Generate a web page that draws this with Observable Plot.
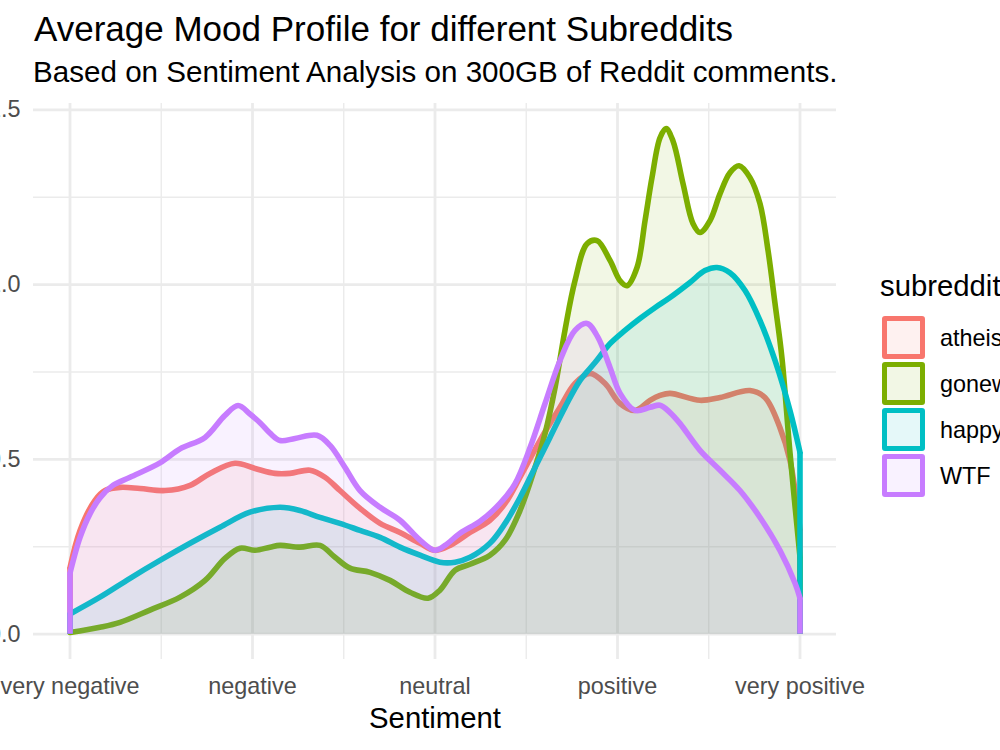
<!DOCTYPE html>
<html>
<head>
<meta charset="utf-8">
<script src="https://cdn.jsdelivr.net/npm/d3@7"></script>
<script src="https://cdn.jsdelivr.net/npm/@observablehq/plot@0.6"></script>
<style>
  html, body { margin: 0; padding: 0; background: #fff; }
  #chart { position: relative; width: 1000px; height: 750px; overflow: hidden;
           font-family: "Liberation Sans", Arial, sans-serif; }
  .title { position: absolute; left: 34px; top: 11px; font-size: 35px; line-height: 1; color: #000; white-space: nowrap; }
  .subtitle { position: absolute; left: 33px; top: 57px; font-size: 29.6px; line-height: 1; color: #000; white-space: nowrap; }
  #plot { position: absolute; left: 0; top: 95px; }
  .legend-title { position: absolute; left: 880px; top: 271px; font-size: 29.3px; line-height: 1; color: #000; white-space: nowrap; }
  .key { position: absolute; left: 882px; width: 43px; height: 43px; box-sizing: border-box; border-style: solid; border-width: 5.5px; border-radius: 3px; }
  .key-label { position: absolute; left: 940px; font-size: 23.4px; line-height: 1; color: #000; white-space: nowrap; }
</style>
</head>
<body>
<div id="chart">
  <div class="title">Average Mood Profile for different Subreddits</div>
  <div class="subtitle">Based on Sentiment Analysis on 300GB of Reddit comments.</div>
  <div id="plot"></div>
  <div class="legend-title">subreddit</div>
</div>
<script>
// Sentiment categories on a numeric scale (very negative = -2 ... very positive = 2)
const sentimentTicks = [-2, -1, 0, 1, 2];
const sentimentLabels = ["very negative", "negative", "neutral", "positive", "very positive"];
const densityTicks = [0, 0.5, 1.0, 1.5];
const subreddits = ["atheism", "gonewild", "happy", "WTF"];

// Smoothed density profiles: [sentiment score, density]
const atheism = [
  [-2.000, 0.190], [-1.945, 0.297], [-1.863, 0.383], [-1.808, 0.411], [-1.726, 0.420],
  [-1.616, 0.417], [-1.479, 0.411], [-1.342, 0.426], [-1.233, 0.460], [-1.096, 0.489],
  [-0.986, 0.474], [-0.877, 0.460], [-0.795, 0.460], [-0.685, 0.469], [-0.603, 0.449],
  [-0.521, 0.411], [-0.411, 0.360], [-0.301, 0.317], [-0.192, 0.291], [-0.082, 0.260],
  [0.000, 0.240], [0.082, 0.254], [0.192, 0.291], [0.301, 0.326], [0.384, 0.374],
  [0.466, 0.449], [0.575, 0.554], [0.685, 0.649], [0.767, 0.717], [0.849, 0.746],
  [0.932, 0.717], [1.014, 0.660], [1.096, 0.640], [1.178, 0.669], [1.233, 0.683],
  [1.288, 0.689], [1.452, 0.669], [1.562, 0.677], [1.726, 0.697], [1.808, 0.677],
  [1.890, 0.591], [1.945, 0.497], [2.000, 0.300]
];
const gonewild = [
  [-2.000, 0.005], [-1.836, 0.020], [-1.726, 0.034], [-1.562, 0.069], [-1.397, 0.106],
  [-1.260, 0.154], [-1.151, 0.217], [-1.068, 0.246], [-0.986, 0.240], [-0.904, 0.249],
  [-0.849, 0.254], [-0.740, 0.249], [-0.630, 0.254], [-0.548, 0.220], [-0.466, 0.189],
  [-0.356, 0.177], [-0.247, 0.154], [-0.137, 0.120], [-0.038, 0.103], [0.027, 0.126],
  [0.110, 0.183], [0.192, 0.200], [0.301, 0.226], [0.384, 0.269], [0.466, 0.354],
  [0.548, 0.477], [0.603, 0.574], [0.658, 0.706], [0.712, 0.869], [0.767, 1.011],
  [0.833, 1.117], [0.888, 1.126], [0.959, 1.069], [1.014, 1.011], [1.052, 0.997],
  [1.107, 1.049], [1.151, 1.183], [1.189, 1.306], [1.233, 1.420], [1.266, 1.446],
  [1.304, 1.411], [1.359, 1.289], [1.414, 1.174], [1.452, 1.149], [1.507, 1.183],
  [1.562, 1.260], [1.616, 1.320], [1.666, 1.340], [1.726, 1.306], [1.781, 1.231],
  [1.825, 1.097], [1.863, 0.946], [1.901, 0.791], [1.945, 0.520], [2.000, 0.220]
];
const happy = [
  [-2.000, 0.058], [-1.836, 0.106], [-1.671, 0.160], [-1.507, 0.211], [-1.342, 0.260],
  [-1.178, 0.306], [-1.014, 0.349], [-0.849, 0.363], [-0.740, 0.354], [-0.630, 0.334],
  [-0.521, 0.317], [-0.411, 0.297], [-0.301, 0.277], [-0.192, 0.249], [-0.082, 0.226],
  [0.027, 0.206], [0.110, 0.206], [0.192, 0.220], [0.301, 0.260], [0.384, 0.317],
  [0.466, 0.391], [0.548, 0.477], [0.630, 0.563], [0.712, 0.649], [0.795, 0.726],
  [0.877, 0.777], [0.959, 0.831], [1.041, 0.869], [1.123, 0.903], [1.205, 0.934],
  [1.288, 0.963], [1.397, 1.006], [1.479, 1.040], [1.545, 1.049], [1.616, 1.034],
  [1.699, 0.983], [1.781, 0.897], [1.863, 0.783], [1.945, 0.640], [2.000, 0.520]
];
const wtf = [
  [-2.000, 0.175], [-1.945, 0.277], [-1.890, 0.345], [-1.836, 0.390], [-1.764, 0.426],
  [-1.671, 0.449], [-1.507, 0.490], [-1.397, 0.530], [-1.260, 0.563], [-1.151, 0.626],
  [-1.079, 0.654], [-1.014, 0.630], [-0.959, 0.605], [-0.904, 0.575], [-0.849, 0.554],
  [-0.767, 0.560], [-0.647, 0.569], [-0.575, 0.540], [-0.493, 0.477], [-0.411, 0.411],
  [-0.301, 0.363], [-0.192, 0.326], [-0.082, 0.269], [0.000, 0.240], [0.055, 0.254],
  [0.137, 0.289], [0.247, 0.323], [0.356, 0.374], [0.438, 0.430], [0.521, 0.534],
  [0.603, 0.660], [0.685, 0.783], [0.767, 0.869], [0.833, 0.889], [0.893, 0.849],
  [0.959, 0.763], [1.014, 0.689], [1.096, 0.640], [1.178, 0.649], [1.233, 0.655],
  [1.288, 0.634], [1.342, 0.603], [1.452, 0.526], [1.562, 0.469], [1.671, 0.411],
  [1.781, 0.334], [1.890, 0.240], [1.973, 0.146], [2.000, 0.103]
];

// Default ggplot hue palette for four groups
const palette = ["#F8766D", "#7CAE00", "#00BFC4", "#C77CFF"];
const profiles = [atheism, gonewild, happy, wtf];

const gridColor = "#EBEBEB";
const minorX = [-1.5, -0.5, 0.5, 1.5];
const minorY = [0.25, 0.75, 1.25];
const lineWidth = 5.6;

const marks = [
  Plot.ruleY(minorY, {stroke: gridColor, strokeWidth: 1.4}),
  Plot.ruleX(minorX, {stroke: gridColor, strokeWidth: 1.4}),
  Plot.ruleY(densityTicks, {stroke: gridColor, strokeWidth: 2.8}),
  Plot.ruleX(sentimentTicks, {stroke: gridColor, strokeWidth: 2.8})
];

// Each group: translucent fill, then its outline (top curve plus the two side edges)
profiles.forEach((values, i) => {
  const color = palette[i];
  const ends = [values[0], values[values.length - 1]];
  marks.push(
    Plot.areaY(values, {x: d => d[0], y: d => d[1], fill: color, fillOpacity: 0.1, curve: "catmull-rom"}),
    Plot.line(values, {x: d => d[0], y: d => d[1], stroke: color, strokeWidth: lineWidth,
                       curve: "catmull-rom", strokeLinejoin: "round", strokeLinecap: "round"}),
    Plot.ruleX(ends, {x: d => d[0], y1: 0, y2: d => d[1], stroke: color, strokeWidth: lineWidth})
  );
});

// Tick labels and axis title
marks.push(
  Plot.text(sentimentTicks, {x: d => d, text: (d, i) => sentimentLabels[i], frameAnchor: "bottom",
                             dy: 34.5, fontSize: 23.4, fill: "#4D4D4D"}),
  Plot.text(densityTicks, {y: d => d, text: d => d.toFixed(1), frameAnchor: "left", textAnchor: "end",
                           dx: -13, fontSize: 23.4, fill: "#4D4D4D"}),
  Plot.text(["Sentiment"], {frameAnchor: "bottom", dy: 68, fontSize: 29.3, fill: "#000"})
);

const chart = Plot.plot({
  width: 1000,
  height: 655,
  marginLeft: 33,
  marginRight: 164,
  marginTop: 8,
  marginBottom: 91,
  x: {domain: [-2.2, 2.2], axis: null},
  y: {domain: [-0.0723, 1.518], axis: null},
  style: {fontFamily: "'Liberation Sans', Arial, sans-serif", overflow: "visible", background: "transparent"},
  marks
});
document.getElementById("plot").appendChild(chart);

// Legend keys
const root = document.getElementById("chart");
subreddits.forEach((name, i) => {
  const top = 316 + 46 * i;
  const key = document.createElement("div");
  key.className = "key";
  key.style.top = top + "px";
  key.style.borderColor = palette[i];
  const c = d3.color(palette[i]); c.opacity = 0.1;
  key.style.background = c.formatRgb();
  root.appendChild(key);
  const label = document.createElement("div");
  label.className = "key-label";
  label.style.top = (top + 21.5 - 23.4 * 0.5 + 1) + "px";
  label.textContent = name;
  root.appendChild(label);
});
</script>
</body>
</html>
